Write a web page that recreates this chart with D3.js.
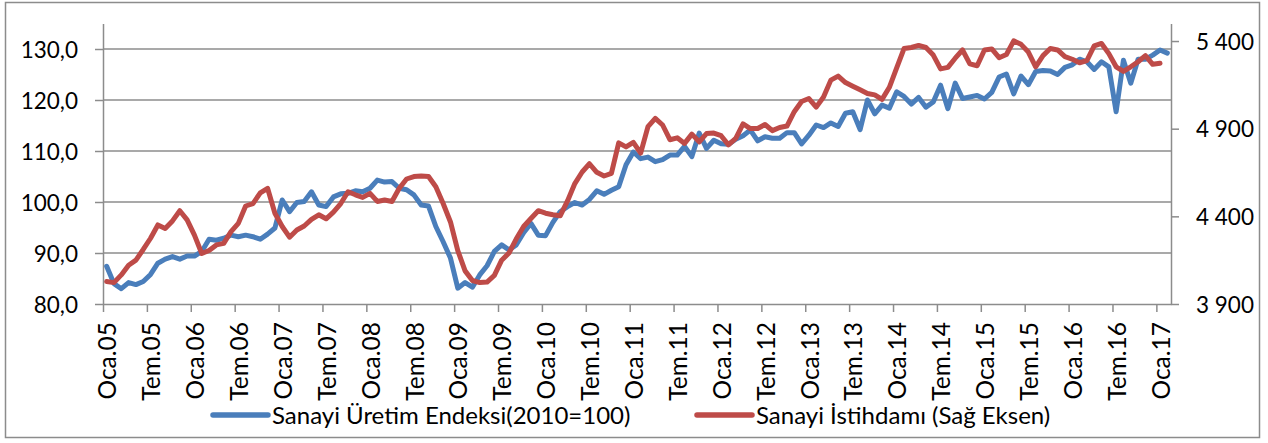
<!DOCTYPE html>
<html>
<head>
<meta charset="utf-8">
<script src="https://cdn.jsdelivr.net/npm/d3@7/dist/d3.min.js"></script>
<style>
  body { margin: 0; background: #fff; }
  text { font-family: Lato, "Open Sans", sans-serif; fill: #000; }
</style>
</head>
<body>
<div id="chart"></div>
<script>
// Sanayi Üretim Endeksi (2010=100), Oca.05 - Şub.17, monthly
let uretim = [
  87.4, 84.0, 83.0, 84.2, 83.8, 84.4, 85.8, 88.0, 88.8, 89.3, 88.8, 89.4,
  89.4, 90.3, 92.7, 92.5, 92.9, 93.5, 93.2, 93.5, 93.2, 92.7, 93.7, 94.9,
  100.4, 98.1, 99.9, 100.1, 102.0, 99.4, 99.1, 101.0, 101.6, 101.7, 102.2, 102.0,
  102.7, 104.3, 103.9, 104.0, 102.7, 102.4, 101.4, 99.4, 99.2, 95.2, 92.2, 89.0,
  83.1, 84.2, 83.3, 85.7, 87.5, 90.3, 91.6, 90.6, 91.6, 94.0, 95.8, 93.5,
  93.4, 96.0, 98.1, 99.1, 99.9, 99.4, 100.5, 102.2, 101.5, 102.3, 103.0, 107.3,
  109.8, 108.5, 108.8, 107.9, 108.3, 109.2, 109.2, 110.9, 108.9, 113.5, 110.5, 112.1,
  111.4, 111.3, 112.3, 113.0, 114.1, 112.0, 112.8, 112.5, 112.5, 113.6, 113.6, 111.4,
  113.1, 115.1, 114.6, 115.5, 114.8, 117.4, 117.7, 114.2, 120.0, 117.3, 119.0, 118.4,
  121.6, 120.7, 119.2, 120.5, 118.6, 119.6, 122.9, 118.3, 123.3, 120.3, 120.6, 120.9,
  120.2, 121.5, 124.5, 125.1, 121.2, 124.7, 123.0, 125.6, 125.8, 125.7, 125.0, 126.4,
  126.9, 128.0, 127.5, 126.0, 127.5, 126.5, 117.7, 127.8, 123.3, 128.0, 128.0, 128.8,
  129.8, 129.2
];

// Sanayi İstihdamı (bin kişi, sağ eksen), Oca.05 - Oca.17
let istihdam = [
  4028, 4022, 4066, 4121, 4150, 4211, 4275, 4351, 4331, 4374, 4432, 4380,
  4293, 4188, 4205, 4237, 4246, 4313, 4360, 4459, 4473, 4534, 4560, 4418,
  4342, 4281, 4322, 4345, 4383, 4409, 4386, 4424, 4473, 4540, 4523, 4508,
  4531, 4485, 4493, 4485, 4560, 4613, 4627, 4630, 4627, 4569, 4473, 4368,
  4205, 4089, 4034, 4022, 4025, 4063, 4150, 4191, 4272, 4342, 4388, 4432,
  4418, 4409, 4403, 4488, 4587, 4653, 4700, 4651, 4630, 4645, 4819, 4796,
  4822, 4761, 4912, 4959, 4921, 4837, 4848, 4816, 4869, 4825, 4872, 4875,
  4860, 4808, 4845, 4927, 4901, 4901, 4924, 4889, 4907, 4915, 4997, 5055,
  5072, 5023, 5081, 5177, 5200, 5163, 5142, 5122, 5101, 5093, 5067, 5136,
  5247, 5357, 5363, 5375, 5363, 5320, 5241, 5250, 5302, 5349, 5270, 5259,
  5349, 5355, 5305, 5323, 5401, 5381, 5337, 5253, 5317, 5357, 5349, 5311,
  5296, 5276, 5288, 5372, 5386, 5328, 5253, 5227, 5253, 5282, 5317, 5267,
  5273
];

let tickLabels = [
  "Oca.05", "Tem.05", "Oca.06", "Tem.06", "Oca.07", "Tem.07", "Oca.08", "Tem.08",
  "Oca.09", "Tem.09", "Oca.10", "Tem.10", "Oca.11", "Tem.11", "Oca.12", "Tem.12",
  "Oca.13", "Tem.13", "Oca.14", "Tem.14", "Oca.15", "Tem.15", "Oca.16", "Tem.16",
  "Oca.17"
];
let leftTicks = [80, 90, 100, 110, 120, 130];
let rightTicks = [3900, 4400, 4900, 5400];
let seriesNames = ["Sanayi Üretim Endeksi(2010=100)", "Sanayi İstihdamı (Sağ Eksen)"];
let seriesColors = ["#4a7ebb", "#be4b48"];

const width = 1268, height = 443;
const nMonths = 146;
const plotLeft = 103, plotRight = 1171, plotTop = 23.5, plotBottom = 304;

const svg = d3.select('#chart')
    .append('svg')
    .attr('width', width)
    .attr('height', height);

// outer chart border
svg.append('rect')
    .attr('x', 5.5).attr('y', 2.5)
    .attr('width', 1254).attr('height', 435)
    .attr('fill', 'none')
    .attr('stroke', '#8c8c8c')
    .attr('stroke-width', 1.5);

const x = d3.scaleLinear().domain([0, nMonths]).range([plotLeft, plotRight]);
const yL = d3.scaleLinear().domain([80, 135]).range([plotBottom, plotTop]);
const yR = d3.scaleLinear().domain([3900, 5500]).range([plotBottom, plotTop]);

const gridColor = '#8c8c8c';

// horizontal gridlines
svg.append('g')
    .selectAll('line')
    .data(leftTicks.slice(1))
    .enter()
    .append('line')
    .attr('x1', plotLeft).attr('x2', plotRight)
    .attr('y1', d => yL(d)).attr('y2', d => yL(d))
    .attr('stroke', gridColor)
    .attr('stroke-width', 1.5);

// left axis
const axL = svg.append('g')
    .attr('transform', `translate(${plotLeft},0)`)
    .call(d3.axisLeft(yL).tickValues(leftTicks).tickSize(8).tickSizeOuter(0)
        .tickFormat(d => d3.format('.1f')(d).replace('.', ',')));

// right axis
const axR = svg.append('g')
    .attr('transform', `translate(${plotRight},0)`)
    .call(d3.axisRight(yR).tickValues(rightTicks).tickSize(8).tickSizeOuter(0)
        .tickFormat(d => d3.format(',')(d).replace(',', ' ')));

// bottom axis
const axB = svg.append('g')
    .attr('transform', `translate(0,${plotBottom})`)
    .call(d3.axisBottom(x).tickValues(tickLabels.map((d, i) => i * 6)).tickSize(8).tickSizeOuter(0)
        .tickFormat((d, i) => tickLabels[i]));

[axL, axR, axB].forEach(g => {
    g.select('.domain').attr('stroke', gridColor).attr('stroke-width', 1.5);
    g.selectAll('.tick line').attr('stroke', gridColor).attr('stroke-width', 1.5);
    g.selectAll('.tick text').attr('fill', '#000').style('font-size', '22.5px');
});
axL.selectAll('.tick text').attr('x', -25).attr('dy', '0.36em');
axR.selectAll('.tick text').attr('x', 25).attr('dy', '0.36em');
axB.selectAll('.tick text')
    .style('font-size', '24.5px')
    .attr('text-anchor', 'end')
    .attr('transform', 'rotate(-90)')
    .attr('x', -18)
    .attr('y', 4)
    .attr('dy', '0.36em');

// series lines
const lineL = d3.line().x((d, i) => x(i + 0.5)).y(d => yL(d));
const lineR = d3.line().x((d, i) => x(i + 0.5)).y(d => yR(d));

svg.append('path')
    .datum(uretim)
    .attr('d', lineL)
    .attr('fill', 'none')
    .attr('stroke', seriesColors[0])
    .attr('stroke-width', 5)
    .attr('stroke-linejoin', 'round')
    .attr('stroke-linecap', 'round');

svg.append('path')
    .datum(istihdam)
    .attr('d', lineR)
    .attr('fill', 'none')
    .attr('stroke', seriesColors[1])
    .attr('stroke-width', 5)
    .attr('stroke-linejoin', 'round')
    .attr('stroke-linecap', 'round');

// legend
const legendX = [213, 697];
const legendY = 415;
const legend = svg.append('g');
seriesNames.forEach((name, i) => {
    legend.append('line')
        .attr('x1', legendX[i]).attr('x2', legendX[i] + 55)
        .attr('y1', legendY).attr('y2', legendY)
        .attr('stroke', seriesColors[i])
        .attr('stroke-width', 5.5)
        .attr('stroke-linecap', 'round');
    legend.append('text')
        .attr('x', legendX[i] + 59)
        .attr('y', legendY)
        .attr('dy', '0.36em')
        .style('font-size', '24px')
        .text(name);
});
</script>
</body>
</html>
